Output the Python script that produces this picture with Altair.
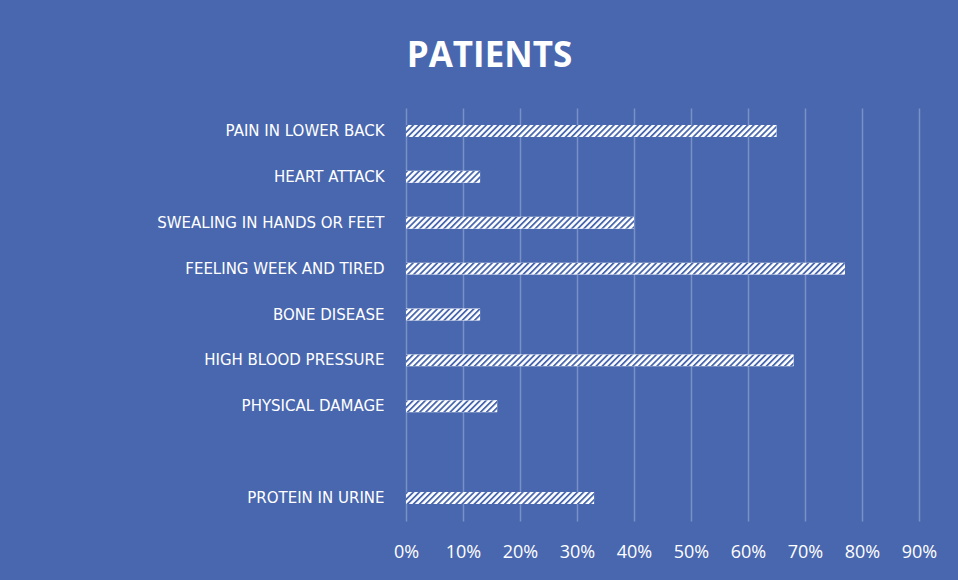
import urllib.parse

import altair as alt
import pandas as pd

# Symptoms, top to bottom; the blank entry keeps an empty row before the last one
symptoms = [
    "PAIN IN LOWER BACK",
    "HEART ATTACK",
    "SWEALING IN HANDS OR FEET",
    "FEELING WEEK AND TIRED ",
    "BONE DISEASE ",
    "HIGH BLOOD PRESSURE",
    "PHYSICAL DAMAGE",
    " ",
    "PROTEIN IN  URINE",
]
shares = [0.65, 0.13, 0.40, 0.77, 0.13, 0.68, 0.16, None, 0.33]
x_ticks = [0.0, 0.1, 0.2, 0.3, 0.4, 0.5, 0.6, 0.7, 0.8, 0.9]

BLUE = "#4967ae"
GRID = "#7a90c8"
FONT = "Open Sans"

df = pd.DataFrame({"symptom": symptoms, "share": shares})

# Diagonal hatch texture used to fill the bars
hatch_svg = (
    '<svg xmlns="http://www.w3.org/2000/svg" width="100%" height="100%">'
    '<defs><pattern id="h" width="4.3" height="4.3" patternUnits="userSpaceOnUse" '
    'patternTransform="rotate(45)">'
    '<rect width="4.3" height="4.3" fill="#ffffff"/>'
    f'<rect width="1.8" height="4.3" fill="{BLUE}"/>'
    "</pattern></defs>"
    '<rect width="100%" height="100%" fill="url(#h)"/></svg>'
)
hatch_url = "data:image/svg+xml;charset=utf-8," + urllib.parse.quote(hatch_svg)

y_enc = alt.Y(
    "symptom:N",
    sort=symptoms,
    scale=alt.Scale(domain=symptoms, paddingInner=0.74, paddingOuter=0.37),
    axis=alt.Axis(
        title=None,
        domain=False,
        ticks=False,
        labelColor="white",
        labelFont="DejaVu Sans",
        labelFontSize=15,
        labelPadding=22,
        labelLimit=400,
    ),
)
x_enc = alt.X(
    "share:Q",
    scale=alt.Scale(domain=[0, 0.9], nice=False),
    axis=alt.Axis(
        title=None,
        values=x_ticks,
        format=".0%",
        domain=False,
        ticks=False,
        grid=True,
        gridColor=GRID,
        gridWidth=1.5,
        labelColor="white",
        labelFont=FONT,
        labelFontSize=18,
        labelPadding=22,
        labelFlush=False,
    ),
)

base = alt.Chart(df)

bars = base.mark_bar(color="white").encode(y=y_enc, x=x_enc, x2=alt.datum(0))
hatch = base.mark_image(aspect=False).encode(
    y=alt.Y("symptom:N", sort=symptoms),
    x=alt.X("share:Q"),
    x2=alt.datum(0),
    url=alt.value(hatch_url),
)

chart = (
    alt.layer(bars, hatch)
    .properties(
        width=513,
        height=413,
        autosize=alt.AutoSizeParams(type="none"),
        padding={"left": 406, "top": 108, "right": 39, "bottom": 59},
        background=BLUE,
        title=alt.TitleParams(
            "PATIENTS",
            color="white",
            font=FONT,
            fontSize=35,
            fontWeight="bold",
            anchor="middle",
            dx=-173,
            offset=34,
        ),
    )
    .configure_view(stroke=None)
)

chart.save("out.html", embed_options={"renderer": "svg", "actions": False})
